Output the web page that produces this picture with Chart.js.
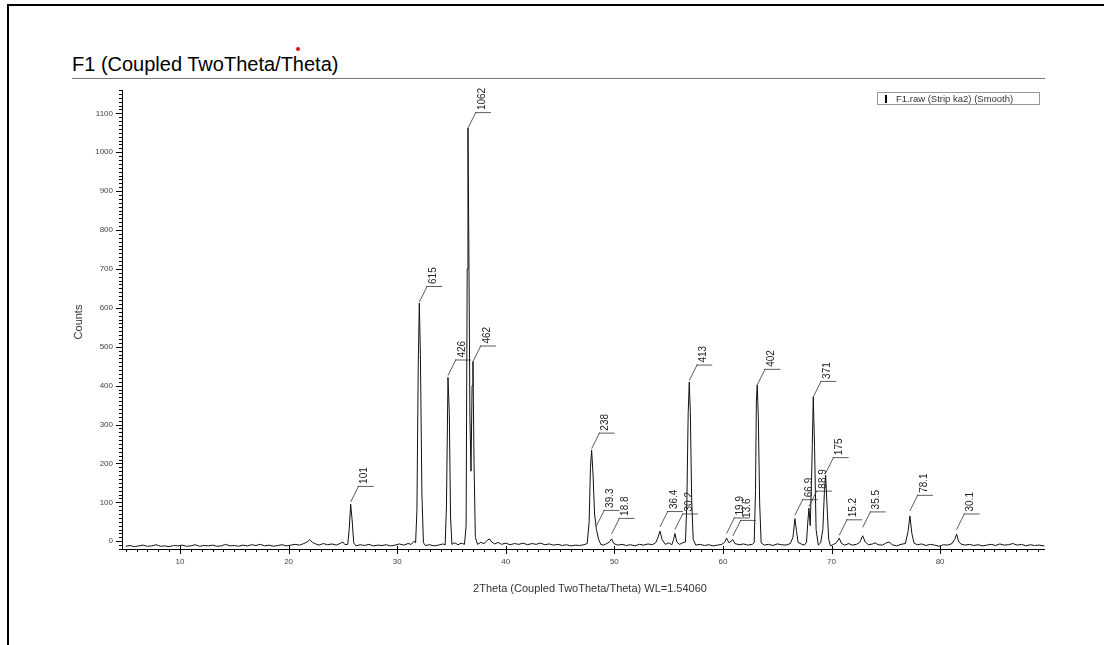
<!DOCTYPE html>
<html>
<head>
<meta charset="utf-8">
<script src="https://cdn.jsdelivr.net/npm/chart.js@4"></script>
<style>
  html, body { margin: 0; padding: 0; background: #fff; width: 1104px; height: 645px; overflow: hidden;
    font-family: "Liberation Sans", Arial, sans-serif; }
  #frame { position: absolute; left: 7px; top: 4px; width: 1110px; height: 700px;
    border-left: 2px solid #000; border-top: 2px solid #000; }
  #title { position: absolute; left: 72px; top: 54px; font-size: 20px; line-height: 20px; color: #000; white-space: nowrap; }
  #rule { position: absolute; left: 72px; top: 78px; width: 973px; height: 0; border-top: 1.5px solid #777; }
  #dot { position: absolute; left: 296px; top: 47px; width: 4px; height: 4px; border-radius: 2px; background: #e01010; }
  canvas { position: absolute; left: 0; top: 0; }
</style>
</head>
<body>
<div id="frame"></div>
<div id="title">F1 (Coupled TwoTheta/Theta)</div>
<div id="dot"></div>
<div id="rule"></div>
<canvas id="myChart" width="1104" height="645"></canvas>
<script>
// scan data (2theta in degrees, counts)
var twoTheta = [
  5.0, 5.4, 5.8, 6.2, 6.6, 7.0, 7.4, 7.8, 8.2, 8.6,
  9.0, 9.4, 9.8, 10.2, 10.6, 11.0, 11.4, 11.8, 12.2, 12.6,
  13.0, 13.4, 13.8, 14.2, 14.6, 15.0, 15.4, 15.8, 16.2, 16.6,
  17.0, 17.4, 17.8, 18.2, 18.6, 19.0, 19.4, 19.8, 20.2, 20.6,
  21.0, 21.4, 21.7, 21.95, 22.2, 22.5, 22.8, 23.2, 23.6, 24.0,
  24.4, 24.8, 25.0, 25.2, 25.45, 25.58, 25.72, 25.85, 26.0, 26.2,
  26.6, 27.0, 27.4, 27.8, 28.2, 28.6, 29.0, 29.4, 29.8, 30.2,
  30.6, 31.0, 31.3, 31.55, 31.7, 31.82, 31.94, 32.04, 32.14, 32.28,
  32.42, 32.6, 33.0, 33.4, 33.8, 34.2, 34.42, 34.54, 34.68, 34.8,
  34.92, 35.04, 35.3, 35.6, 35.9, 36.2, 36.35, 36.45, 36.52, 36.6,
  36.7, 36.8, 36.9, 36.98, 37.08, 37.2, 37.4, 37.7, 38.0, 38.3,
  38.5, 38.7, 39.0, 39.3, 39.6, 40.0, 40.4, 40.8, 41.2, 41.6,
  42.0, 42.4, 42.8, 43.2, 43.6, 44.0, 44.4, 44.8, 45.2, 45.6,
  46.0, 46.4, 46.8, 47.2, 47.5, 47.68, 47.8, 47.91, 48.04, 48.18,
  48.35, 48.55, 48.75, 49.0, 49.3, 49.55, 49.75, 49.95, 50.3, 50.7,
  51.1, 51.5, 51.9, 52.3, 52.7, 53.1, 53.5, 53.8, 54.0, 54.2,
  54.4, 54.7, 55.0, 55.3, 55.45, 55.58, 55.75, 56.0, 56.3, 56.55,
  56.68, 56.8, 56.9, 57.0, 57.12, 57.26, 57.5, 57.9, 58.3, 58.7,
  59.1, 59.5, 59.9, 60.15, 60.34, 60.55, 60.75, 60.92, 61.1, 61.5,
  61.9, 62.3, 62.7, 62.88, 63.0, 63.08, 63.16, 63.26, 63.38, 63.52,
  63.8, 64.2, 64.6, 65.0, 65.4, 65.8, 66.2, 66.45, 66.63, 66.78,
  66.92, 67.2, 67.5, 67.7, 67.82, 67.92, 68.04, 68.18, 68.32, 68.44,
  68.58, 68.78, 69.0, 69.2, 69.35, 69.46, 69.58, 69.74, 69.9, 70.2,
  70.45, 70.71, 70.9, 71.2, 71.6, 71.9, 72.3, 72.6, 72.87, 73.1,
  73.4, 73.8, 74.0, 74.3, 74.7, 75.0, 75.3, 75.6, 76.0, 76.4,
  76.8, 77.05, 77.22, 77.4, 77.6, 77.9, 78.3, 78.7, 79.1, 79.5,
  79.9, 80.3, 80.7, 81.1, 81.35, 81.52, 81.7, 81.9, 82.3, 82.7,
  83.1, 83.5, 83.9, 84.3, 84.7, 85.1, 85.5, 85.9, 86.3, 86.7,
  87.1, 87.5, 87.9, 88.3, 88.7, 89.1, 89.6
];
var counts = [
  -13, -11, -14, -12, -10, -13, -12, -9, -13, -12,
  -14, -11, -12, -10, -13, -12, -9, -13, -11, -12,
  -10, -13, -12, -8, -12, -11, -13, -10, -12, -9,
  -11, -8, -12, -10, -13, -11, -9, -12, -10, -8,
  -10, -6, -2, 4, -3, -7, -10, -6, -9, -7,
  -10, -5, -2, -9, -8, 30, 95, 55, -4, -12,
  -9, -11, -8, -12, -10, -11, -9, -12, -10, -7,
  -10, -6, -8, 0, -4, 80, 450, 612, 480, 120,
  -4, -11, -9, -12, -10, -7, -9, 90, 421, 330,
  60, -8, -4, -9, -5, -8, 40, 700, 1062, 760,
  320, 180, 400, 462, 200, 10, -8, -3, -6, 2,
  6, -2, -7, -3, -8, -5, -9, -6, -8, -5,
  -9, -6, -8, -5, -9, -7, -10, -8, -11, -9,
  -12, -10, -11, -9, -6, 50, 190, 234, 170, 70,
  30, 5, -8, -10, -6, -2, 6, -6, -10, -8,
  -11, -9, -12, -8, -10, -7, -9, -4, 8, 26,
  4, -8, -4, -9, 4, 20, -2, -8, -4, -2,
  100, 330, 409, 330, 110, 5, -10, -8, -11, -9,
  -12, -10, -8, -3, 8, -4, 0, 4, -6, -9,
  -7, -10, -8, -4, 130, 360, 402, 320, 100, -4,
  -10, -8, -11, -7, -9, -10, -6, 10, 58, 25,
  -3, -7, -10, -2, 50, 85, 40, 180, 371, 240,
  30, -10, -4, 30, 130, 170, 95, 5, -12, -8,
  -4, 8, -5, -10, -6, -10, -8, -3, 14, -2,
  -9, -7, -4, -9, -10, -5, -2, -9, -12, -8,
  -6, 25, 65, 20, -5, -9, -7, -11, -8, -10,
  -13, -9, -10, -6, 5, 18, 0, -7, -10, -8,
  -11, -9, -12, -10, -8, -11, -7, -10, -9, -6,
  -10, -8, -12, -9, -11, -10, -12
];

// peak markers
var peakPos = [25.72, 32.04, 34.68, 36.52, 36.98, 47.91, 48.35, 49.75, 54.2, 55.58, 56.9,
  60.34, 60.92, 63.16, 66.63, 67.92, 68.32, 69.46, 70.71, 72.87, 77.22, 81.52];
var peakLabels = ['101', '615', '426', '1062', '462', '238', '39.3', '18.8', '36.4', '30.2', '413',
  '19.9', '13.6', '402', '66.9', '88.9', '371', '175', '15.2', '35.5', '78.1', '30.1'];

// tick labels
var xTickValues = [10, 20, 30, 40, 50, 60, 70, 80];
var yTickValues = [0, 100, 200, 300, 400, 500, 600, 700, 800, 900, 1000, 1100];

var FONT = '"Liberation Sans", Arial, sans-serif';

var decor = {
  id: 'decor',
  afterDraw: function (chart) {
    var ctx = chart.ctx, a = chart.chartArea, x = chart.scales.x, y = chart.scales.y;
    ctx.save();
    ctx.strokeStyle = '#000';
    ctx.lineWidth = 1;
    ctx.beginPath();
    // axis lines
    ctx.moveTo(a.left + 0.5, a.top);
    ctx.lineTo(a.left + 0.5, a.bottom + 1);
    ctx.moveTo(a.left, a.bottom + 0.5);
    ctx.lineTo(a.right, a.bottom + 0.5);
    // y ticks, minor every 10
    for (var v = -20; v <= 1160; v += 10) {
      var py = Math.round(y.getPixelForValue(v)) + 0.5;
      var len = (v % 100 === 0) ? 6 : 3;
      ctx.moveTo(a.left - len, py);
      ctx.lineTo(a.left, py);
    }
    // x ticks
    for (var t = 5; t <= 89; t++) {
      var px = Math.round(x.getPixelForValue(t)) + 0.5;
      if (t % 10 === 0) {
        ctx.moveTo(px, a.bottom - 3);
        ctx.lineTo(px, a.bottom + 5);
      } else {
        ctx.moveTo(px, a.bottom);
        ctx.lineTo(px, a.bottom + 3);
      }
    }
    ctx.stroke();

    // peak labels with leader lines
    ctx.strokeStyle = '#333';
    ctx.lineWidth = 0.8;
    ctx.fillStyle = '#222';
    ctx.font = '10px ' + FONT;
    for (var i = 0; i < peakPos.length; i++) {
      var bx = x.getPixelForValue(peakPos[i]);
      var by = y.getPixelForValue(parseFloat(peakLabels[i]));
      var hy = by - 16;
      ctx.beginPath();
      ctx.moveTo(bx, by);
      ctx.lineTo(bx + 8, hy);
      ctx.moveTo(bx + 7, hy + 0.5);
      ctx.lineTo(bx + 23, hy + 0.5);
      ctx.stroke();
      ctx.save();
      ctx.translate(bx + 9, hy - 2);
      ctx.rotate(-Math.PI / 2);
      ctx.textAlign = 'left';
      ctx.textBaseline = 'top';
      ctx.fillText(peakLabels[i], 0, 0);
      ctx.restore();
    }

    // axis titles
    ctx.fillStyle = '#333';
    ctx.font = '11px ' + FONT;
    ctx.textAlign = 'center';
    ctx.textBaseline = 'middle';
    ctx.fillText('2Theta (Coupled TwoTheta/Theta) WL=1.54060', 590, 589);
    ctx.save();
    ctx.translate(79, 322);
    ctx.rotate(-Math.PI / 2);
    ctx.fillText('Counts', 0, 0);
    ctx.restore();

    // legend box
    ctx.strokeStyle = '#999';
    ctx.lineWidth = 1;
    ctx.strokeRect(877.5, 92.5, 162, 12);
    ctx.fillStyle = '#000';
    ctx.fillRect(885, 95, 2, 8);
    ctx.fillStyle = '#333';
    ctx.font = '9.5px ' + FONT;
    ctx.textAlign = 'left';
    ctx.fillText('F1.raw (Strip ka2) (Smooth)', 896, 99);
    ctx.restore();
  }
};

var ctx = document.getElementById('myChart').getContext('2d');
var chart = new Chart(ctx, {
  type: 'line',
  data: {
    datasets: [{
      label: 'F1.raw (Strip ka2) (Smooth)',
      data: twoTheta.map(function (t, i) { return { x: t, y: counts[i] }; }),
      borderColor: '#111',
      borderWidth: 1,
      pointRadius: 0,
      tension: 0,
      fill: false
    }]
  },
  options: {
    responsive: false,
    animation: false,
    devicePixelRatio: 1,
    layout: { padding: { left: 60, right: 59, top: 90, bottom: 0 } },
    plugins: { legend: { display: false }, tooltip: { enabled: false } },
    scales: {
      x: {
        type: 'linear',
        min: 4.66,
        max: 89.66,
        afterBuildTicks: function (s) { s.ticks = xTickValues.map(function (v) { return { value: v }; }); },
        afterFit: function (s) { s.height = 96; },
        grid: { display: false, drawTicks: false },
        border: { display: false },
        ticks: { padding: 8, color: '#444', font: { size: 8, family: FONT }, maxRotation: 0, autoSkip: false,
          callback: function (v) { return String(v); } }
      },
      y: {
        type: 'linear',
        min: -20,
        max: 1160,
        afterBuildTicks: function (s) { s.ticks = yTickValues.map(function (v) { return { value: v }; }); },
        afterFit: function (s) { s.width = 62; },
        grid: { display: false, drawTicks: false },
        border: { display: false },
        ticks: { padding: 9, color: '#444', font: { size: 8, family: FONT }, autoSkip: false,
          callback: function (v) { return String(v); } }
      }
    }
  },
  plugins: [decor]
});
</script>
</body>
</html>
